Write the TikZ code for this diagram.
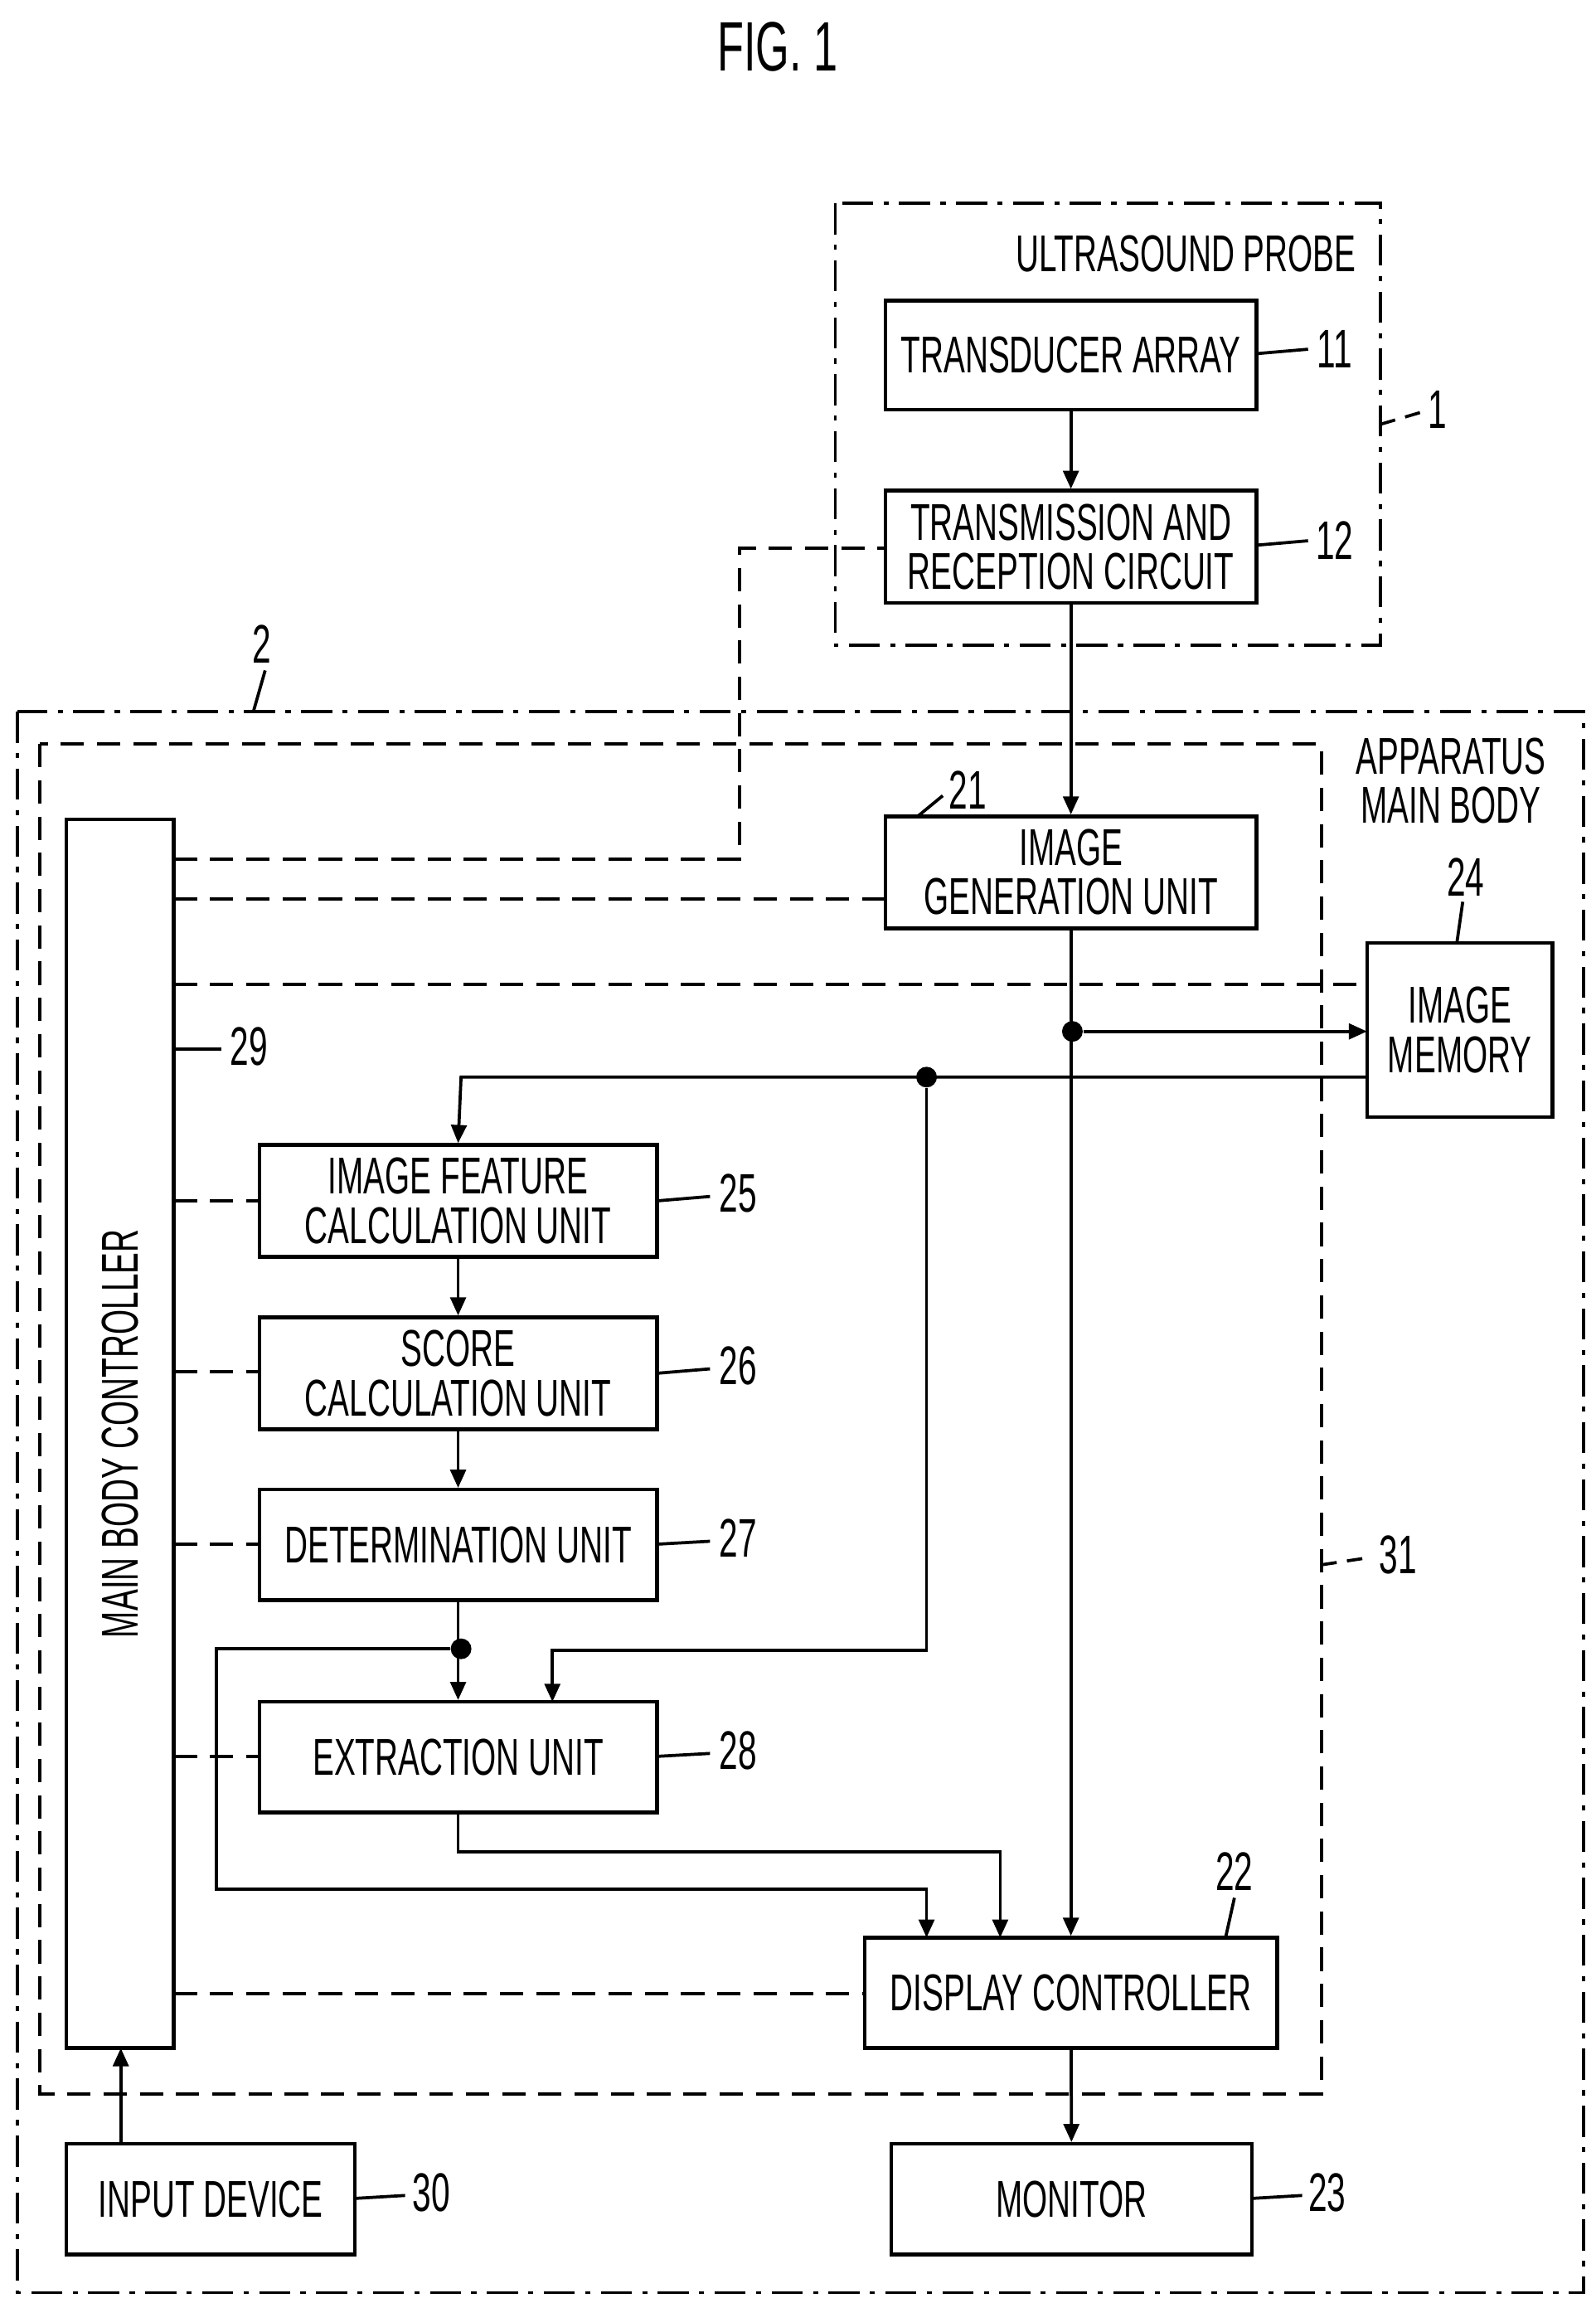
\documentclass[tikz,border=0pt]{standalone}
\usepackage{fontspec}
\setmainfont{Liberation Sans}[FakeStretch=0.62]
\usetikzlibrary{arrows.meta}
\begin{document}
\begin{tikzpicture}[x=0.02cm,y=-0.02cm,
  every node/.style={font=\fontsize{20}{21}\selectfont,align=center},
  box/.style={draw,line width=1.4pt,inner sep=1pt},
  ln/.style={line width=1.2pt},
  arr/.style={ln,-{Triangle[length=7pt,width=6pt]}},
  dsh/.style={ln,dash pattern=on 9pt off 5pt},
  dd/.style={ln,dash pattern=on 12pt off 4pt on 2pt off 4pt},
  dot/.style={circle,fill,inner sep=0pt,minimum size=8pt},
  num/.style={font=\fontsize{21}{22}\selectfont}]
\useasboundingbox (0,0) rectangle (1083,1563);
\node at (528,32) {\fontsize{27}{28}\selectfont FIG. 1};
% containers
\draw[dd] (567,138) rectangle (937,438);
\node at (805,172) {ULTRASOUND PROBE};
\draw[dd] (12,483) rectangle (1075,1556);
\draw[dsh] (27,505) rectangle (897,1421);
\node at (985,530) {APPARATUS\\[-2pt]MAIN BODY};
% blocks
\node[box,minimum width=252*0.02cm,minimum height=74*0.02cm] (ta) at (727,241) {TRANSDUCER ARRAY};
\node[box,minimum width=252*0.02cm,minimum height=76*0.02cm] (tx) at (727,371) {TRANSMISSION AND\\[-2pt]RECEPTION CIRCUIT};
\node[box,minimum width=252*0.02cm,minimum height=76*0.02cm] (ig) at (727,592) {IMAGE\\[-2pt]GENERATION UNIT};
\node[box,minimum width=126*0.02cm,minimum height=118*0.02cm] (im) at (991,699) {IMAGE\\[-2pt]MEMORY};
\node[box,minimum width=73*0.02cm,minimum height=834*0.02cm] (mc) at (81.5,973) {};
\node[rotate=90] at (81.5,973) {MAIN BODY CONTROLLER};
\node[box,minimum width=270*0.02cm,minimum height=76*0.02cm] (fe) at (311,815) {IMAGE FEATURE\\[-2pt]CALCULATION UNIT};
\node[box,minimum width=270*0.02cm,minimum height=76*0.02cm] (sc) at (311,932) {SCORE\\[-2pt]CALCULATION UNIT};
\node[box,minimum width=270*0.02cm,minimum height=75*0.02cm] (de) at (311,1048.5) {DETERMINATION UNIT};
\node[box,minimum width=270*0.02cm,minimum height=75*0.02cm] (ex) at (311,1192.5) {EXTRACTION UNIT};
\node[box,minimum width=280*0.02cm,minimum height=75*0.02cm] (dc) at (727,1352.5) {DISPLAY CONTROLLER};
\node[box,minimum width=196*0.02cm,minimum height=75*0.02cm] (in) at (143,1492.5) {INPUT DEVICE};
\node[box,minimum width=245*0.02cm,minimum height=75*0.02cm] (mo) at (727.5,1492.5) {MONITOR};
% numbers
\node[num] (n11) at (906,237) {11}; \draw[ln] (853,240) -- (888,237);
\node[num] (n12) at (906,367) {12}; \draw[ln] (853,370) -- (888,367);
\node[num] (n1) at (976,278) {1}; \draw[ln,dash pattern=on 6pt off 4pt] (937,288) -- (964,280);
\node[num] (n2) at (178,437) {2}; \draw[ln] (180,455) -- (172,483);
\node[num] (n21) at (657,536) {21}; \draw[ln] (623,554) -- (640,540);
\node[num] (n24) at (995,595) {24}; \draw[ln] (993,612) -- (989,640);
\node[num] (n29) at (169,710) {29}; \draw[ln] (118,712) -- (150,712);
\node[num] (n25) at (501,810) {25}; \draw[ln] (446,815) -- (482,812);
\node[num] (n26) at (501,927) {26}; \draw[ln] (446,932) -- (482,929);
\node[num] (n27) at (501,1044) {27}; \draw[ln] (446,1048) -- (482,1046);
\node[num] (n28) at (501,1188) {28}; \draw[ln] (446,1192) -- (482,1190);
\node[num] (n22) at (838,1270) {22}; \draw[ln] (838,1288) -- (832,1315);
\node[num] (n31) at (949,1055) {31}; \draw[ln,dash pattern=on 6pt off 4pt] (897,1062) -- (930,1057);
\node[num] (n30) at (293,1488) {30}; \draw[ln] (241,1492) -- (275,1490);
\node[num] (n23) at (901,1488) {23}; \draw[ln] (850,1492) -- (884,1490);
% signal flow
\draw[arr] (ta) -- (tx);
\draw[arr] (tx) -- (ig);
\draw[arr] (ig) -- (dc.north);
\node[dot] (d1) at (728,700) {};
\draw[arr] (d1) -- (928,700);
\coordinate (m1) at (928,731);
\node[dot] (d2) at (629,731) {};
\draw[arr] (m1) -- (313,731) -- (fe.north);
\draw[arr] (d2) -- (629,1120) -- (375,1120) -- (375,1155);
\draw[arr] (fe) -- (sc);
\draw[arr] (sc) -- (de);
\draw[arr] (de) -- (ex);
\node[dot] (d3) at (313,1119) {};
\draw[arr] (d3) -- (147,1119) -- (147,1282) -- (629,1282) -- (629,1315);
\draw[arr] (ex.south) -- (311,1257) -- (679,1257) -- (679,1315);
\draw[arr] (dc) -- (mo);
\draw[arr] (82,1455) -- (82,1390);
% control lines
\draw[dsh] (118,583) -- (502,583) -- (502,372) -- (601,372);
\draw[dsh] (118,610) -- (601,610);
\draw[dsh] (118,668) -- (928,668);
\draw[dsh] (118,815) -- (176,815);
\draw[dsh] (118,931) -- (176,931);
\draw[dsh] (118,1048) -- (176,1048);
\draw[dsh] (118,1192) -- (176,1192);
\draw[dsh] (118,1353) -- (587,1353);
\end{tikzpicture}
\end{document}
